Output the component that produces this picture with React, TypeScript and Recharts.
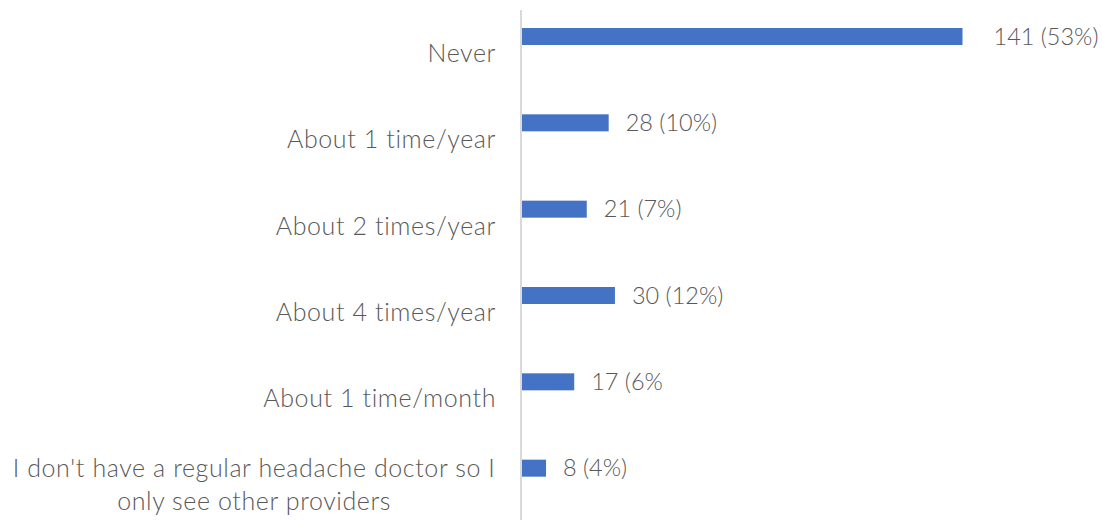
import { BarChart, Bar, XAxis, YAxis, LabelList } from "recharts"

const categories = [
  "Never",
  "About 1 time/year",
  "About 2 times/year",
  "About 4 times/year",
  "About 1 time/month",
  "I don't have a regular headache doctor so I\nonly see other providers",
]
const counts = [141, 28, 21, 30, 17, 8]
const valueLabels = ["141 (53%)", "28 (10%)", "21 (7%)", "30 (12%)", "17 (6%", "8 (4%)"]

const data = categories.map((c, i) => ({ category: c, count: counts[i], label: valueLabels[i] }))

const FONT = "Lato, sans-serif"
const CAT_SIZE = 25
const CAT_LS = 0.6
const VAL_SIZE = 23.5
const TEXT = "#595959"
const BAR_SHIFT = -17

let canvas: HTMLCanvasElement | null = null
function measure(text: string) {
  if (!canvas) canvas = document.createElement("canvas")
  const ctx = canvas.getContext("2d")!
  ctx.font = `300 ${CAT_SIZE}px Lato`
  return ctx.measureText(text).width + text.length * CAT_LS
}

function CategoryTick(props: any) {
  const { x, y, payload } = props
  const lines: string[] = String(payload.value).split("\n")
  const lineH = 33
  const common = {
    fill: TEXT,
    fontSize: CAT_SIZE,
    fontFamily: FONT,
    fontWeight: 300,
    letterSpacing: CAT_LS,
    dy: CAT_SIZE * 0.35,
  }
  if (lines.length === 1) {
    return (
      <text x={x} y={y} textAnchor="end" {...common}>
        {lines[0]}
      </text>
    )
  }
  const w = Math.max(...lines.map(measure))
  const cx = x - w / 2
  const top = y - ((lines.length - 1) * lineH) / 2
  return (
    <g>
      {lines.map((l, i) => (
        <text key={i} x={cx} y={top + i * lineH} textAnchor="middle" {...common}>
          {l}
        </text>
      ))}
    </g>
  )
}

function ShiftedBar(props: any) {
  const { x, y, width, height, fill } = props
  return <rect x={x} y={y + BAR_SHIFT} width={width} height={height} fill={fill} />
}

function ValueLabel(props: any) {
  const { x, y, width, height, value, index } = props
  const gap = index === 0 ? 31 : 17
  return (
    <text
      x={x + width + gap}
      y={y + height / 2 + BAR_SHIFT}
      dy={VAL_SIZE * 0.35}
      fill={TEXT}
      fontSize={VAL_SIZE}
      fontFamily={FONT}
      fontWeight={300}
    >
      {value}
    </text>
  )
}

export default function App() {
  return (
    <div style={{ position: "absolute", left: 0, top: 0, width: 1102, height: 520, overflow: "hidden", background: "#fff" }}>
      <BarChart
        width={1102}
        height={528}
        data={data}
        layout="vertical"
        margin={{ top: 10, right: 80, bottom: 0, left: 0 }}
        barSize={17}
      >
        <XAxis type="number" domain={[0, 160]} hide />
        <YAxis
          type="category"
          dataKey="category"
          width={521}
          axisLine={{ stroke: "#d9d9d9", strokeWidth: 2 }}
          tickLine={false}
          tickMargin={19}
          tick={<CategoryTick />}
          interval={0}
        />
        <Bar dataKey="count" fill="#4472C4" shape={<ShiftedBar />} isAnimationActive={false}>
          <LabelList dataKey="label" content={<ValueLabel />} />
        </Bar>
      </BarChart>
    </div>
  )
}
